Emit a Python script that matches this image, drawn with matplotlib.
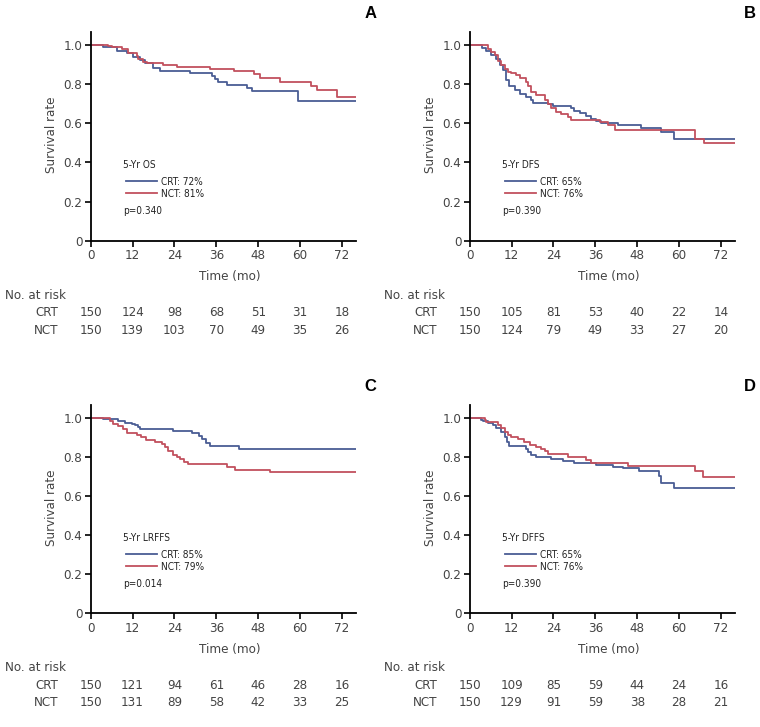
import matplotlib.pyplot as plt
import numpy as np

plt.rcParams['font.family'] = ['DejaVu Sans']
plt.rcParams['font.stretch'] = 'condensed'

# Kaplan-Meier curves (time in months, survival)
# A: overall survival
a_crt_t = [0, 3.6, 7.5, 10.3, 12.2, 14, 15.6, 18, 19.9, 28.4, 34.7, 35.5, 36.6, 39, 44.7, 46.2, 59.3, 76]
a_crt_s = [1.0, 0.99, 0.97, 0.96, 0.94, 0.923, 0.906, 0.88, 0.865, 0.855, 0.84, 0.825, 0.813, 0.795, 0.78, 0.765, 0.715, 0.715]
a_nct_t = [0, 5, 6, 8.9, 10.8, 13.2, 13.7, 15.1, 16, 20.8, 24.7, 26.6, 34.2, 41, 46.7, 48.6, 54.3, 63.1, 64.8, 70.6, 76]
a_nct_s = [1.0, 0.995, 0.99, 0.98, 0.96, 0.945, 0.93, 0.915, 0.91, 0.9, 0.89, 0.885, 0.875, 0.865, 0.85, 0.83, 0.81, 0.79, 0.77, 0.735, 0.735]

# B: disease-free survival
b_crt_t = [0, 3.5, 4.8, 6.2, 7.6, 8.6, 9.5, 10.5, 11.4, 12.9, 14.3, 16.2, 17.6, 18.1, 22.4, 23.8, 29.1, 30, 31.5,
           33.4, 34.8, 36.2, 37.7, 42.4, 49.1, 54.8, 58.6, 76]
b_crt_s = [1.0, 0.985, 0.97, 0.95, 0.93, 0.9, 0.87, 0.82, 0.79, 0.77, 0.75, 0.735, 0.72, 0.705, 0.70, 0.69, 0.68,
           0.665, 0.65, 0.635, 0.62, 0.61, 0.60, 0.59, 0.575, 0.555, 0.52, 0.52]
b_nct_t = [0, 5.2, 6.2, 7.2, 8.1, 9.1, 10, 11, 11.9, 13.4, 14.3, 16.2, 16.7, 17.6, 19.1, 21.5, 22.4, 23.4, 24.8,
           26.2, 28.1, 29.1, 37.2, 39.6, 41.5, 64.7, 67, 76]
b_nct_s = [1.0, 0.98, 0.965, 0.95, 0.92, 0.9, 0.875, 0.86, 0.855, 0.845, 0.83, 0.81, 0.79, 0.76, 0.745, 0.72, 0.70,
           0.68, 0.66, 0.645, 0.63, 0.615, 0.605, 0.59, 0.565, 0.52, 0.50, 0.50]

# C: locoregional failure-free survival
c_crt_t = [0, 3.6, 7.9, 9.8, 11.8, 12.7, 13.5, 14, 23.7, 29, 30.9, 31.9, 33.1, 34.2, 42.6, 76]
c_crt_s = [1.0, 0.995, 0.985, 0.975, 0.97, 0.96, 0.95, 0.94, 0.93, 0.92, 0.905, 0.89, 0.87, 0.855, 0.84, 0.84]
c_nct_t = [0, 5.5, 6.5, 7.9, 9.2, 10.3, 13.2, 14.5, 15.9, 18.5, 20.4, 21.3, 22.3, 23.7, 24.7, 25.6, 26.6, 28,
           39, 41.4, 51.5, 76]
c_nct_s = [1.0, 0.985, 0.97, 0.955, 0.94, 0.92, 0.91, 0.9, 0.885, 0.875, 0.865, 0.85, 0.83, 0.81, 0.80, 0.79,
           0.775, 0.765, 0.75, 0.735, 0.72, 0.72]

# D: distant failure-free survival
d_crt_t = [0, 3.3, 3.8, 5.2, 6.7, 7.6, 9.1, 10, 10.7, 11.4, 16, 16.7, 17.6, 19.1, 23.4, 26.7, 30, 36.2, 41, 43.9,
           48.6, 54.2, 54.8, 58.6, 76]
d_crt_s = [1.0, 0.99, 0.985, 0.975, 0.96, 0.945, 0.925, 0.9, 0.875, 0.855, 0.84, 0.825, 0.81, 0.80, 0.79, 0.78,
           0.77, 0.76, 0.75, 0.745, 0.725, 0.70, 0.665, 0.64, 0.64]
d_nct_t = [0, 4.3, 4.8, 5.7, 8.1, 9.1, 10, 11, 11.9, 13.8, 15.7, 17.2, 19.1, 20.5, 21.5, 22.4, 28.1, 33.4, 34.8,
           45.3, 64.7, 66.8, 76]
d_nct_s = [1.0, 0.99, 0.98, 0.98, 0.965, 0.945, 0.925, 0.91, 0.90, 0.89, 0.875, 0.86, 0.85, 0.84, 0.83, 0.815,
           0.80, 0.785, 0.77, 0.755, 0.725, 0.695, 0.695]

risk_times = [0, 12, 24, 36, 48, 60, 72]
a_risk_crt = [150, 124, 98, 68, 51, 31, 18]
a_risk_nct = [150, 139, 103, 70, 49, 35, 26]
b_risk_crt = [150, 105, 81, 53, 40, 22, 14]
b_risk_nct = [150, 124, 79, 49, 33, 27, 20]
c_risk_crt = [150, 121, 94, 61, 46, 28, 16]
c_risk_nct = [150, 131, 89, 58, 42, 33, 25]
d_risk_crt = [150, 109, 85, 59, 44, 24, 16]
d_risk_nct = [150, 129, 91, 59, 38, 28, 21]

panels = [
    ('A', '5-Yr OS', 'CRT: 72%', 'NCT: 81%', 'p=0.340', a_crt_t, a_crt_s, a_nct_t, a_nct_s, a_risk_crt, a_risk_nct),
    ('B', '5-Yr DFS', 'CRT: 65%', 'NCT: 76%', 'p=0.390', b_crt_t, b_crt_s, b_nct_t, b_nct_s, b_risk_crt, b_risk_nct),
    ('C', '5-Yr LRFFS', 'CRT: 85%', 'NCT: 79%', 'p=0.014', c_crt_t, c_crt_s, c_nct_t, c_nct_s, c_risk_crt, c_risk_nct),
    ('D', '5-Yr DFFS', 'CRT: 65%', 'NCT: 76%', 'p=0.390', d_crt_t, d_crt_s, d_nct_t, d_nct_s, d_risk_crt, d_risk_nct),
]

blue = '#4a5d94'
red = '#c2505e'
grey = '#444444'
fs = 9.5

fig = plt.figure(figsize=(7.6, 7.27), dpi=100)
positions = [(0.1193, 0.669), (0.618, 0.669), (0.1193, 0.1564), (0.618, 0.1564)]
letter_pos = [(0.487, 0.982), (0.987, 0.982), (0.487, 0.469), (0.987, 0.469)]

for i, (letter, title, lab1, lab2, ptxt, t1, s1, t2, s2, r1, r2) in enumerate(panels):
    ax = fig.add_axes([positions[i][0], positions[i][1], 0.349, 0.2866])
    l1, = ax.plot(t1, s1, drawstyle='steps-post', color=blue, lw=1.3)
    l2, = ax.plot(t2, s2, drawstyle='steps-post', color=red, lw=1.3)
    ax.set_xlim(0, 76)
    ax.set_ylim(0, 1.065)
    ax.set_xticks(risk_times)
    ax.set_yticks([0, 0.2, 0.4, 0.6, 0.8, 1.0])
    ax.set_yticklabels(['0', '0.2', '0.4', '0.6', '0.8', '1.0'])
    for s in ['top', 'right']:
        ax.spines[s].set_visible(False)
    for s in ['left', 'bottom']:
        ax.spines[s].set_linewidth(1.3)
    ax.tick_params(direction='out', length=4, width=1.2, labelsize=fs, labelcolor=grey, pad=2)

    ax.set_ylabel('Survival rate', fontsize=fs, color=grey)
    ax.yaxis.set_label_coords(-0.123, 0.507)
    ax.text(0.525, -0.174, 'Time (mo)', transform=ax.transAxes, ha='center', va='center',
            fontsize=fs, color=grey)

    ax.text(0.122, 0.363, title, transform=ax.transAxes, fontsize=7.2, color='#222222', va='center')
    ax.legend([l1, l2], [lab1, lab2], loc='center left', bbox_to_anchor=(0.135, 0.253),
              frameon=False, fontsize=7.2, handlelength=3.1, handletextpad=0.35,
              labelspacing=0.2, borderpad=0, borderaxespad=0, labelcolor='#222222')
    ax.text(0.122, 0.143, ptxt, transform=ax.transAxes, fontsize=7.2, color='#222222', va='center')

    # risk table
    tr = ax.get_xaxis_transform()
    ax.text(-0.323, -0.261, 'No. at risk', transform=ax.transAxes, ha='left', va='center',
            fontsize=fs, color=grey)
    ax.text(-0.123, -0.347, 'CRT', transform=ax.transAxes, ha='right', va='center', fontsize=fs, color=grey)
    ax.text(-0.123, -0.429, 'NCT', transform=ax.transAxes, ha='right', va='center', fontsize=fs, color=grey)
    for t, n1, n2 in zip(risk_times, r1, r2):
        ax.text(t, -0.347, str(n1), transform=tr, ha='center', va='center', fontsize=fs,
                color=grey, clip_on=False)
        ax.text(t, -0.429, str(n2), transform=tr, ha='center', va='center', fontsize=fs,
                color=grey, clip_on=False)

    fig.text(letter_pos[i][0], letter_pos[i][1], letter, fontsize=12, fontweight='bold',
             fontstretch='normal', family=['Liberation Sans', 'DejaVu Sans'], ha='center', va='center')

fig.savefig('out.png', dpi=100)
